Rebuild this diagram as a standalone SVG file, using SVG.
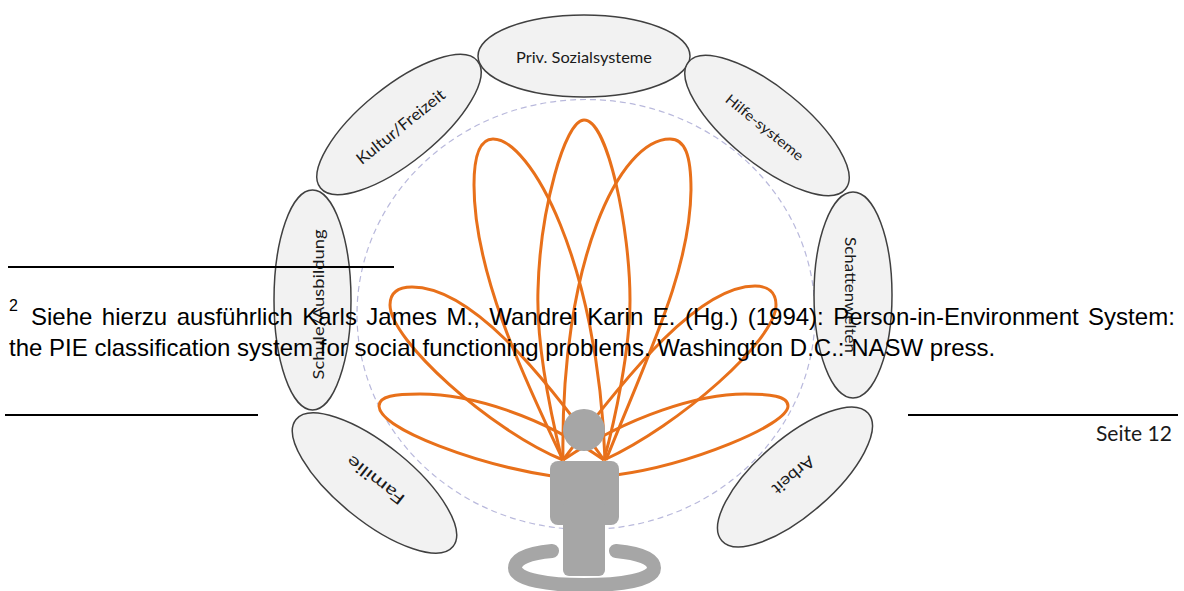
<svg xmlns="http://www.w3.org/2000/svg" width="1184" height="591" viewBox="0 0 1184 591">
<style>
.n{fill:#f2f2f2;stroke:#404040;stroke-width:1.5}
.l{font-family:Lato,"Open Sans",sans-serif;font-size:16px;fill:#1a1a1a;text-anchor:middle;dominant-baseline:central}
.p{fill:none;stroke:#e8701a;stroke-width:3}
.t{font-family:"Liberation Sans",Arial,sans-serif;font-size:24px;fill:#000}
.r{stroke:#000;stroke-width:2}
</style>
<rect width="1184" height="591" fill="#fff"/>
<ellipse id="boundary" cx="586" cy="314.500" rx="229" ry="215" fill="none" stroke="#b9b9dc" stroke-width="1.200" stroke-dasharray="6 4"/>
<g id="node-priv"><ellipse class="n" cx="584" cy="56" rx="106" ry="41"/><text class="l" x="584" y="56" textLength="136" lengthAdjust="spacingAndGlyphs">Priv. Sozialsysteme</text></g>
<g id="node-kultur"><ellipse class="n" cx="399" cy="124.500" rx="101" ry="38" transform="rotate(-39 399 124.500)"/><text class="l" transform="translate(400 126) rotate(-39)" textLength="109" lengthAdjust="spacingAndGlyphs">Kultur/Freizeit</text></g>
<g id="node-hilfe"><ellipse class="n" cx="767" cy="125.500" rx="101" ry="38" transform="rotate(39 767 125.500)"/><text class="l" style="font-size:14px" transform="translate(765 127) rotate(39)" textLength="96" lengthAdjust="spacingAndGlyphs">Hilfe-systeme</text></g>
<g id="node-schatten"><ellipse class="n" cx="853" cy="295" rx="39" ry="103"/><text class="l" transform="translate(851 295) rotate(90)" textLength="116" lengthAdjust="spacingAndGlyphs">Schattenwelten</text></g>
<g id="node-arbeit"><ellipse class="n" cx="795" cy="477" rx="97" ry="38" transform="rotate(-41 795 477)"/><text class="l" transform="translate(794 476) rotate(140)" textLength="50" lengthAdjust="spacingAndGlyphs">Arbeit</text></g>
<g id="node-familie"><ellipse class="n" cx="374.500" cy="483" rx="101" ry="38" transform="rotate(39 374.500 483)"/><text class="l" transform="translate(375 481) rotate(218)" textLength="69" lengthAdjust="spacingAndGlyphs">Familie</text></g>
<g id="node-schule"><ellipse class="n" cx="312.500" cy="300" rx="38.500" ry="110"/><text class="l" transform="translate(317 304.500) rotate(-90)" textLength="150" lengthAdjust="spacingAndGlyphs">Schule/Ausbildung</text></g>
<g id="connectors">
<path class="p" d="M552,476 C480,465 380,430 379,406 C379,396 395,394 420,394 C470,394 540,415 604,460"/>
<path class="p" d="M563,460 C490,430 390,340 390,305 C390,292 398,287 412,287 C470,287 540,370 604,460"/>
<path class="p" d="M563,460 C520,370 474,270 474,185 C474,150 482,139 493,139 C530,139 598,260 605,460"/>
<path class="p" d="M562,460 C540,370 537,320 538,290 C540,210 565,120 584,120 C608,120 630,230 630,300 C630,350 615,420 604,460"/>
<path class="p" d="M606,460 C650,350 690,270 691,190 C691,155 685,139 670,139 C620,139 560,260 563,460"/>
<path class="p" d="M604,460 C680,425 776,340 776,305 C776,292 768,286 755,286 C700,286 630,370 563,460"/>
<path class="p" d="M616,475 C690,465 788,425 788,406 C788,396 770,394 745,394 C700,394 630,415 563,460"/>
</g>
<g id="person" fill="#a6a6a6">
<circle cx="584" cy="430" r="21"/>
<rect x="550" y="461" width="69" height="64" rx="8"/>
<rect x="563" y="500" width="42" height="76" rx="6"/>
<path d="M552,551 C530,553 515,558 515,568 C515,580 550,585 584,585 C620,585 654,580 654,568 C654,558 638,553 616,551" fill="none" stroke="#a6a6a6" stroke-width="14" stroke-linecap="round"/>
</g>
<g id="page-text">
<line class="r" x1="8" y1="267" x2="394" y2="267"/>
<line class="r" x1="5" y1="415" x2="258" y2="415"/>
<line class="r" x1="908" y1="415" x2="1178" y2="415"/>
<text class="t" x="9" y="311" style="font-size:16px">2</text>
<text class="t" x="31" y="325" style="word-spacing:2.800px">Siehe hierzu ausführlich Karls James M., Wandrei Karin E. (Hg.) (1994): Person-in-Environment System:</text>
<text class="t" x="9" y="355.500">the PIE classification system for social functioning problems. Washington D.C.: NASW press.</text>
<text x="1096" y="441" style="font-family:Lato,'Open Sans',sans-serif;font-size:22px;fill:#1a1a1a" textLength="76" lengthAdjust="spacingAndGlyphs">Seite 12</text>
</g>
</svg>
